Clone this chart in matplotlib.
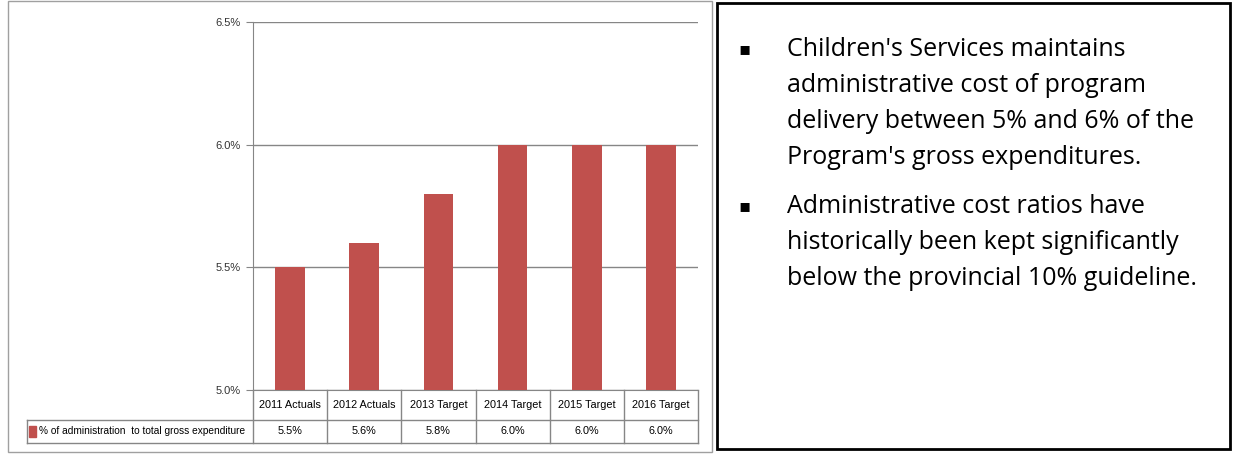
import matplotlib.pyplot as plt
from matplotlib.lines import Line2D
from matplotlib.patches import Rectangle

categorias = ['2011 Actuals', '2012 Actuals', '2013 Target', '2014 Target', '2015 Target', '2016 Target']
porcentajes = [5.5, 5.6, 5.8, 6.0, 6.0, 6.0]
etiquetas = ['5.5%', '5.6%', '5.8%', '6.0%', '6.0%', '6.0%']
serie = '% of administration  to total gross expenditure'
ticks_y = [5.0, 5.5, 6.0, 6.5]
viñetas = [
    "Children's Services maintains\nadministrative cost of program\ndelivery between 5% and 6% of the\nProgram's gross expenditures.",
    "Administrative cost ratios have\nhistorically been kept significantly\nbelow the provincial 10% guideline.",
]

rojo = '#C0504D'
gris = '#868686'
narrow = ['Liberation Sans Narrow', 'Liberation Sans', 'DejaVu Sans']

W, H = 1233, 454
fig = plt.figure(figsize=(W / 100, H / 100), dpi=100)

def px(x, y):
    # pixeles -> coordenadas de figura
    return x / W, 1 - y / H

# marco del grafico y caja de texto
fig.add_artist(Rectangle(px(8, 452), 704 / W, 451 / H, transform=fig.transFigure,
                         fill=False, edgecolor='#A0A0A0', lw=1))
fig.add_artist(Rectangle(px(717, 449), 513 / W, 446 / H, transform=fig.transFigure,
                         fill=False, edgecolor='black', lw=2))

x0, y0 = px(253, 390)
x1, y1 = px(698, 22)
ax = fig.add_axes([x0, y0, x1 - x0, y1 - y0])

pos = range(len(categorias))
ax.bar(pos, porcentajes, width=0.4, color=rojo, zorder=3)
ax.set_xlim(-0.5, len(categorias) - 0.5)
ax.set_ylim(5.0, 6.5)
ax.set_yticks(ticks_y)
ax.set_yticklabels([f'{t:.1f}%' for t in ticks_y], fontsize=8, family=narrow, color='#333333')
ax.set_xticks([])
ax.grid(axis='y', color=gris, lw=1, zorder=0)
ax.tick_params(axis='y', length=5, color=gris, pad=4)
for s in ['top', 'right']:
    ax.spines[s].set_visible(False)
ax.spines['left'].set_color(gris)
ax.spines['bottom'].set_color(gris)

# tabla de datos debajo del eje
trans = ax.get_xaxis_transform()
def fy(ypix):
    # pixel vertical -> coordenada del eje
    return (1 - ypix / H - y0) / (y1 - y0)

y_fila1, y_fila2, y_fin = fy(390), fy(420), fy(443)
ancho_cat = (x1 - x0) * W / len(categorias)  # pixeles por categoria
x_izq = -0.5 - (253 - 27) / ancho_cat
for i in range(len(categorias) + 1):
    ax.add_line(Line2D([i - 0.5, i - 0.5], [y_fila1, y_fin], transform=trans,
                       color=gris, lw=1, clip_on=False))
ax.add_line(Line2D([x_izq, x_izq], [y_fila2, y_fin], transform=trans, color=gris, lw=1, clip_on=False))
for yy in (y_fila2, y_fin):
    ax.add_line(Line2D([x_izq, len(categorias) - 0.5], [yy, yy], transform=trans,
                       color=gris, lw=1, clip_on=False))

for i, (c, e) in enumerate(zip(categorias, etiquetas)):
    ax.text(i, (y_fila1 + y_fila2) / 2, c, transform=trans, ha='center', va='center',
            fontsize=7.8, family=narrow, color='black')
    ax.text(i, (y_fila2 + y_fin) / 2, e, transform=trans, ha='center', va='center',
            fontsize=7.8, family=narrow, color='black')

# leyenda en la primera columna
y_mid = (y_fila2 + y_fin) / 2
ax.add_patch(Rectangle((x_izq + 2 / ancho_cat, y_mid - 0.016), 7 / ancho_cat, 0.032,
                       transform=trans, color=rojo, clip_on=False))
ax.text(x_izq + 12 / ancho_cat, y_mid, serie, transform=trans, ha='left', va='center',
        fontsize=7.3, family=narrow, color='black', zorder=5)

# texto de la derecha
ys = [48, 205]
for y, t in zip(ys, viñetas):
    fig.text(*px(745, y + 1), '\u25aa', fontsize=13, ha='center', va='center', color='black')
    fig.text(*px(787, y - 11), t, fontsize=18, family=['Open Sans', 'DejaVu Sans'],
             ha='left', va='top', linespacing=1.58, color='black')

fig.savefig('out.png', dpi=100)
